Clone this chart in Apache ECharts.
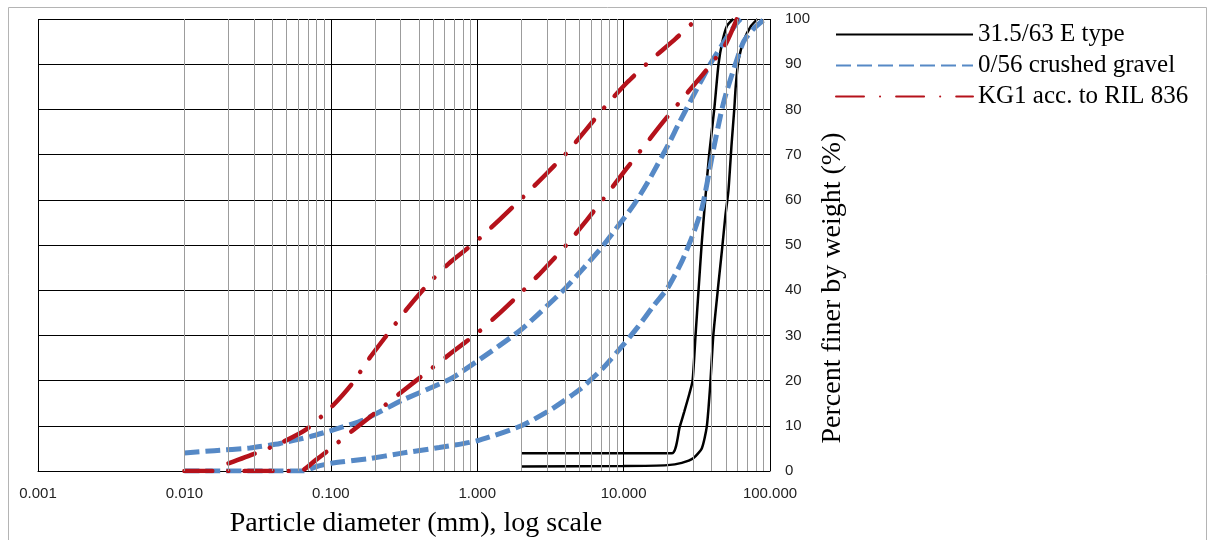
<!DOCTYPE html>
<html>
<head>
<meta charset="utf-8">
<title>Grading curves</title>
<script src="https://cdn.jsdelivr.net/npm/echarts@6/dist/echarts.min.js"></script>
<style>
  html, body { margin: 0; padding: 0; background: #fff; }
  #chart { width: 1215px; height: 540px; }
</style>
</head>
<body>
<div id="chart"></div>
<script>
// legend names
const seriesNames = ['31.5/63 E type', '0/56 crushed gravel', 'KG1 acc. to RIL 836'];

// [diameter mm, percent finer]
const eTypeFine = [[2,3.9],[21.3,3.9],[24.2,9.8],[26,13.2],[28.2,17.2],[29.6,20],[31,30],[32.5,40],[34.1,50],[36.1,60],[38.4,70],[41.6,80],[44.5,90],[47.3,95],[50.9,98.5],[56,100]];
const eTypeCoarse = [[2,1.0],[10,1.1],[20,1.3],[25,1.8],[29.9,2.8],[34.2,5],[37,9.8],[39,18.7],[41,30],[44.5,41.6],[47,48.9],[49.5,56.3],[52,62],[54.7,72.5],[57,80],[58.3,85],[61,91],[66.5,95.4],[74,98.4],[82,100]];

const gravelFine = [[0.01,4],[0.016,4.5],[0.028,5.1],[0.045,6.1],[0.072,7.6],[0.104,9.1],[0.167,11.3],[0.31,15.7],[0.65,20.3],[1,24.3],[2,31.3],[3.88,40],[5.2,44.5],[7.3,50],[11.8,59],[15,64.5],[20.8,73],[23.5,76.5],[29.9,83],[39,90],[49.5,95.4],[59,99],[63,100]];
const gravelCoarse = [[0.01,0],[0.065,0],[0.08,1],[0.1,1.7],[0.18,2.7],[0.3,3.9],[0.55,5.2],[1,6.7],[2,10],[3.16,13.5],[5,18],[7.1,22.5],[10,28],[12.6,32],[15.8,36.3],[20,40.5],[25.1,46.5],[30,52.6],[34.5,58.5],[41,71],[46.9,80],[50.6,84],[58,90],[66,95],[77,97.8],[92,100]];

const kgFine = [[0.02,1.7],[0.03,3.8],[0.045,6.1],[0.068,9.2],[0.1,14],[0.139,19.2],[0.184,25],[0.246,30.4],[0.33,35.8],[0.457,41.2],[0.66,46.3],[1,51],[2,60.2],[4.06,70.3],[7.6,80.9],[10.6,86],[15.2,90.8],[22.6,95.6],[31.6,100]];
const kgCoarse = [[0.01,0],[0.062,0],[0.078,2.3],[0.1,5],[0.139,8.8],[0.2,12.8],[0.3,17.3],[0.45,21.8],[0.67,26.2],[1,30.5],[1.43,35],[2,39.5],[2.8,44.3],[4.06,50],[5.6,55.5],[7.6,61],[10.3,66.6],[13.9,72],[18.8,77.4],[26.2,83],[36.6,88.6],[49.5,94.3],[59.4,100]];

// minor log gridlines 2..9 in each decade
const minorLines = [];
[0.001, 0.01, 0.1, 1, 10].forEach(d => {
  for (let m = 2; m <= 9; m++) minorLines.push({ xAxis: +(m * d).toPrecision(3) });
});

const serif = "'Liberation Serif','Times New Roman',serif";
const sans = "'Liberation Sans',Arial,sans-serif";

const chart = echarts.init(document.getElementById('chart'));

function curve(name, data, color, width, dash, cap) {
  return {
    name: name,
    type: 'line',
    data: data,
    symbol: 'none',
    smooth: 0.2,
    z: 3,
    lineStyle: { color: color, width: width, type: dash, cap: cap },
    itemStyle: { color: color }
  };
}

const black = '#000000', blue = '#5689c6', red = '#b5121b';
const redDash = [28, 16, 0.1, 16];
const blueDash = [15, 6];

const option = {
  animation: false,
  backgroundColor: '#ffffff',
  grid: { left: 38, right: 445, top: 19, bottom: 69 },
  legend: {
    data: seriesNames,
    orient: 'vertical',
    left: 830,
    top: 17,
    itemWidth: 137,
    itemHeight: 14,
    itemGap: 6,
    itemTextGap: 10,
    itemStyle: { opacity: 0 },
    textStyle: { fontFamily: serif, fontSize: 25, color: '#000' }
  },
  xAxis: {
    type: 'log',
    logBase: 10,
    min: 0.001,
    max: 100,
    axisLine: { show: true, lineStyle: { color: '#000', width: 1 } },
    axisTick: { show: false },
    axisLabel: {
      fontFamily: sans, fontSize: 15, color: '#222', margin: 15,
      formatter: v => v.toFixed(3)
    },
    splitLine: { show: true, lineStyle: { color: '#000', width: 1 } }
  },
  yAxis: {
    type: 'value',
    position: 'right',
    min: 0,
    max: 100,
    interval: 10,
    axisLine: { show: false },
    axisTick: { show: false },
    axisLabel: { fontFamily: sans, fontSize: 15, color: '#222', margin: 15 },
    splitLine: { show: true, lineStyle: { color: '#000', width: 1 } }
  },
  graphic: [
    {
      type: 'rect', z: -10, silent: true,
      shape: { x: 8.5, y: 7.5, width: 1198, height: 580 },
      style: { fill: 'none', stroke: '#b4b4b4', lineWidth: 1 }
    },
    {
      type: 'text', x: 416, y: 524, silent: true,
      style: {
        text: 'Particle diameter (mm), log scale',
        font: "28px 'Liberation Serif','Times New Roman',serif",
        fill: '#000', align: 'center', verticalAlign: 'middle'
      }
    },
    {
      type: 'text', x: 833, y: 288, rotation: Math.PI / 2, silent: true,
      style: {
        text: 'Percent finer by weight (%)',
        font: "28px 'Liberation Serif','Times New Roman',serif",
        fill: '#000', align: 'center', verticalAlign: 'middle'
      }
    }
  ],
  series: [
    {
      type: 'line', data: [], z: 1, silent: true,
      markLine: {
        silent: true, symbol: ['none', 'none'], label: { show: false },
        lineStyle: { color: '#9c9c9c', width: 1, type: 'solid' },
        data: minorLines
      }
    },
    curve(seriesNames[0], eTypeFine, black, 2.5, 'solid', 'butt'),
    curve(seriesNames[0], eTypeCoarse, black, 2.5, 'solid', 'butt'),
    curve(seriesNames[1], gravelFine, blue, 5, blueDash, 'butt'),
    curve(seriesNames[1], gravelCoarse, blue, 5, blueDash, 'butt'),
    curve(seriesNames[2], kgFine, red, 4.5, redDash, 'round'),
    curve(seriesNames[2], kgCoarse, red, 4.5, redDash, 'round')
  ]
};

chart.setOption(option);
</script>
</body>
</html>
